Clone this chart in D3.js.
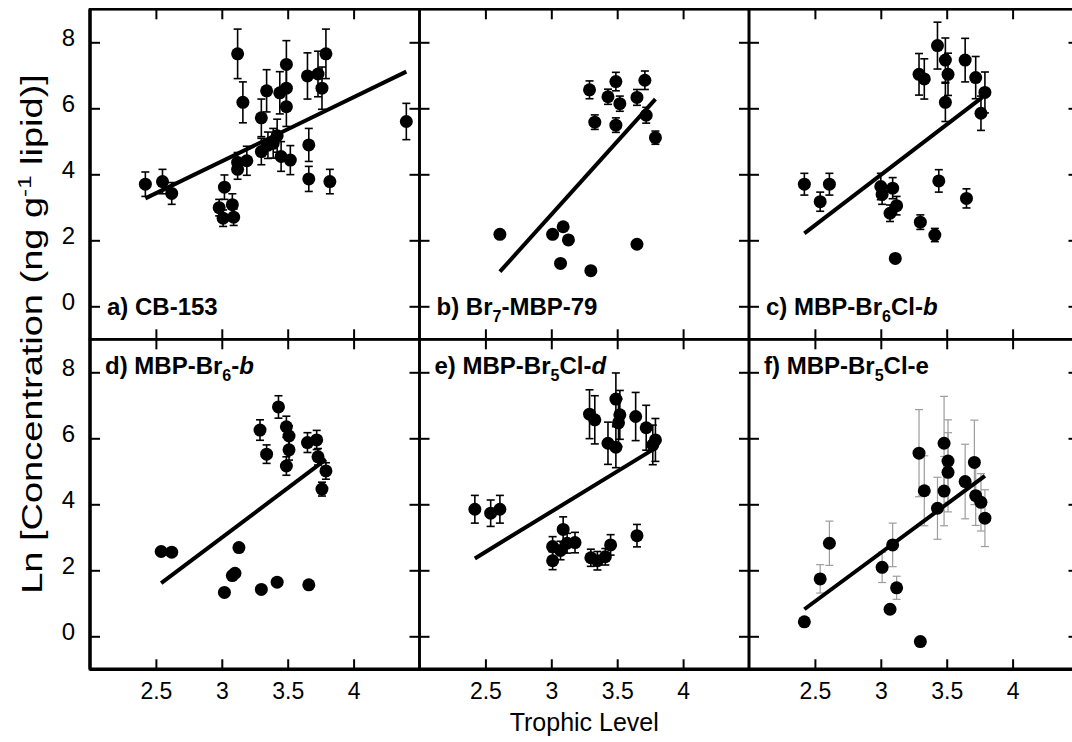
<!DOCTYPE html>
<html>
<head>
<meta charset="utf-8">
<script src="https://cdn.jsdelivr.net/npm/d3@7"></script>
<style>
  body { margin: 0; background: #fff; }
  text { font-family: "Liberation Sans", Arial, sans-serif; }
</style>
</head>
<body>
<script>
// tick values
const xTicks = [2.5, 3, 3.5, 4]
const yTicks = [0, 2, 4, 6, 8]

// a) CB-153
const tlA = [2.42, 2.55, 2.62, 3.12, 3.16, 3.02, 2.98, 3.01, 3.08, 3.09, 3.12, 3.12, 3.19, 3.30, 3.30, 3.34, 3.35, 3.39, 3.42, 3.44, 3.45, 3.49, 3.49, 3.49, 3.52, 3.65, 3.66, 3.66, 3.73, 3.76, 3.79, 3.82, 4.40]
const lnA = [3.70, 3.78, 3.42, 7.65, 6.18, 3.61, 2.99, 2.67, 3.08, 2.70, 4.15, 4.36, 4.41, 5.71, 4.69, 6.53, 4.88, 4.94, 5.17, 6.47, 4.54, 7.33, 6.61, 6.05, 4.43, 6.98, 4.89, 3.86, 7.04, 6.61, 7.65, 3.78, 5.60]
const errA = [0.37, 0.37, 0.33, 0.75, 0.62, 0.37, 0.25, 0.25, 0.33, 0.25, 0.30, 0.30, 0.44, 0.57, 0.40, 0.64, 0.40, 0.45, 0.50, 0.64, 0.45, 0.72, 0.65, 0.60, 0.44, 0.70, 0.50, 0.38, 0.69, 0.64, 0.75, 0.37, 0.55]
const fitXA = [2.42, 4.40]
const fitYA = [3.27, 7.11]

// b) Br7-MBP-79
const tlB = [2.61, 3.01, 3.09, 3.13, 3.07, 3.30, 3.65, 3.29, 3.33, 3.43, 3.49, 3.52, 3.49, 3.65, 3.71, 3.72, 3.79]
const lnB = [2.18, 2.18, 2.41, 2.01, 1.30, 1.08, 1.88, 6.56, 5.58, 6.35, 6.81, 6.14, 5.49, 6.33, 6.85, 5.79, 5.11]
const errB = [0, 0, 0, 0, 0, 0, 0, 0.27, 0.22, 0.23, 0.28, 0.23, 0.22, 0.24, 0.28, 0.24, 0.20]
const fitXB = [2.61, 3.79]
const fitYB = [1.05, 6.28]

// c) MBP-Br6Cl-b
const tlC = [2.42, 2.54, 2.61, 3.00, 3.01, 3.09, 3.12, 3.07, 3.11, 3.30, 3.41, 3.44, 3.65, 3.29, 3.33, 3.43, 3.49, 3.51, 3.49, 3.64, 3.72, 3.79, 3.76]
const lnC = [3.70, 3.17, 3.70, 3.63, 3.39, 3.58, 3.05, 2.82, 1.45, 2.55, 2.16, 3.80, 3.27, 7.03, 6.89, 7.90, 7.46, 7.03, 6.18, 7.46, 6.93, 6.48, 5.85]
const errC = [0.33, 0.29, 0.33, 0.40, 0.30, 0.32, 0.28, 0.25, 0, 0.22, 0.20, 0.34, 0.29, 0.63, 0.61, 0.71, 0.67, 0.64, 0.58, 0.66, 0.64, 0.62, 0.52]
const fitXC = [2.42, 3.77]
const fitYC = [2.21, 6.33]

// d) MBP-Br6-b
const tlD = [2.54, 2.62, 3.02, 3.08, 3.10, 3.13, 3.30, 3.42, 3.66, 3.29, 3.34, 3.43, 3.49, 3.51, 3.51, 3.49, 3.65, 3.72, 3.73, 3.79, 3.76]
const lnD = [2.57, 2.55, 1.33, 1.84, 1.91, 2.69, 1.42, 1.64, 1.56, 6.25, 5.52, 6.95, 6.35, 6.07, 5.65, 5.16, 5.87, 5.95, 5.44, 5.01, 4.46]
const errD = [0, 0, 0, 0, 0, 0, 0, 0, 0, 0.31, 0.28, 0.34, 0.32, 0.31, 0.31, 0.28, 0.30, 0.29, 0.25, 0.25, 0.21]
const fitXD = [2.54, 3.79]
const fitYD = [1.61, 5.36]

// e) MBP-Br5Cl-d
const tlE = [2.42, 2.54, 2.61, 3.01, 3.01, 3.07, 3.09, 3.12, 3.18, 3.30, 3.35, 3.41, 3.45, 3.65, 3.29, 3.33, 3.43, 3.49, 3.52, 3.51, 3.49, 3.64, 3.72, 3.79, 3.77]
const lnE = [3.85, 3.73, 3.85, 2.72, 2.29, 2.60, 3.24, 2.82, 2.84, 2.38, 2.29, 2.41, 2.77, 3.05, 6.73, 6.56, 5.85, 7.19, 6.71, 6.47, 5.73, 6.66, 6.32, 5.95, 5.80]
const errE = [0.42, 0.40, 0.42, 0.30, 0.27, 0.28, 0.38, 0.30, 0.31, 0.26, 0.28, 0.25, 0.31, 0.34, 0.74, 0.73, 0.64, 0.79, 0.74, 0.72, 0.62, 0.73, 0.68, 0.65, 0.60]
const fitXE = [2.42, 3.78]
const fitYE = [2.36, 5.68]

// f) MBP-Br5Cl-e
const tlF = [2.42, 2.54, 2.61, 3.01, 3.07, 3.09, 3.12, 3.30, 3.29, 3.33, 3.43, 3.48, 3.51, 3.51, 3.48, 3.64, 3.71, 3.72, 3.76, 3.79]
const lnF = [0.44, 1.74, 2.82, 2.09, 0.82, 2.77, 1.47, -0.16, 5.55, 4.41, 3.88, 5.85, 5.31, 4.97, 4.40, 4.69, 5.27, 4.26, 4.06, 3.58]
const errF = [0, 0.43, 0.67, 0.46, 0, 0.66, 0.35, 0, 1.32, 1.06, 0.94, 1.42, 1.25, 1.20, 1.05, 1.13, 1.28, 0.90, 0.87, 0.86]
const fitXF = [2.42, 3.79]
const fitYF = [0.82, 4.86]

const panels = [
  {tl: tlA, ln: lnA, err: errA, fx: fitXA, fy: fitYA, label: [{t: "a) CB-153"}]},
  {tl: tlB, ln: lnB, err: errB, fx: fitXB, fy: fitYB, label: [{t: "b) Br"}, {t: "7", sub: true}, {t: "-MBP-79"}]},
  {tl: tlC, ln: lnC, err: errC, fx: fitXC, fy: fitYC, label: [{t: "c) MBP-Br"}, {t: "6", sub: true}, {t: "Cl-"}, {t: "b", it: true}]},
  {tl: tlD, ln: lnD, err: errD, fx: fitXD, fy: fitYD, label: [{t: "d) MBP-Br"}, {t: "6", sub: true}, {t: "-"}, {t: "b", it: true}]},
  {tl: tlE, ln: lnE, err: errE, fx: fitXE, fy: fitYE, label: [{t: "e) MBP-Br"}, {t: "5", sub: true}, {t: "Cl-"}, {t: "d", it: true}]},
  {tl: tlF, ln: lnF, err: errF, fx: fitXF, fy: fitYF, label: [{t: "f) MBP-Br"}, {t: "5", sub: true}, {t: "Cl-e"}], grey: true}
]

const w = 1072
const h = 742
const mLeft = 90
const mTop = 9.3
const pw = 329.5
const ph = 330

const x = d3.scaleLinear().domain([2, 4.5]).range([0, pw])
const y = d3.scaleLinear().domain([-1, 9]).range([ph, 0])

const svg = d3.select("body").append("svg")
  .attr("width", w)
  .attr("height", h)

panels.forEach((p, i) => {
  const col = i % 3
  const row = Math.floor(i / 3)
  const g = svg.append("g")
    .attr("transform", "translate(" + (mLeft + col * pw) + "," + (mTop + row * ph) + ")")

  // inward ticks on all four sides
  const tickStyle = (sel) => {
    sel.select(".domain").remove()
    sel.selectAll(".tick line").attr("stroke", "#000").attr("stroke-width", 2)
  }
  g.append("g").attr("transform", "translate(0," + ph + ")")
    .call(d3.axisBottom(x).tickValues(xTicks).tickSize(-10).tickFormat("")).call(tickStyle)
  g.append("g")
    .call(d3.axisTop(x).tickValues(xTicks).tickSize(-10).tickFormat("")).call(tickStyle)
  g.append("g")
    .call(d3.axisLeft(y).tickValues(yTicks).tickSize(-10).tickFormat("")).call(tickStyle)
  g.append("g").attr("transform", "translate(" + pw + ",0)")
    .call(d3.axisRight(y).tickValues(yTicks).tickSize(-10).tickFormat("")).call(tickStyle)

  // tick labels on the outside
  if (row === 1) {
    g.append("g").attr("transform", "translate(0," + ph + ")")
      .call(d3.axisBottom(x).tickValues(xTicks).tickSize(0).tickPadding(13).tickFormat(d3.format("")))
      .call((sel) => {
        sel.select(".domain").remove()
        sel.selectAll("text").attr("font-size", 23).attr("fill", "#000")
      })
  }
  if (col === 0) {
    g.append("g")
      .call(d3.axisLeft(y).tickValues(yTicks).tickSize(0).tickPadding(15).tickFormat(d3.format("")))
      .call((sel) => {
        sel.select(".domain").remove()
        sel.selectAll("text").attr("font-size", 24).attr("fill", "#000").attr("dy", "0.15em")
      })
  }

  const pts = p.tl.map((v, k) => ({tl: v, ln: p.ln[k], err: p.err[k]})).filter((d) => d.err > 0)
  const ec = p.grey ? "#9c9c9c" : "#000"
  const ew = p.grey ? 1.2 : 1.6
  const eb = g.append("g").selectAll("g").data(pts).enter().append("g")
  eb.append("line")
    .attr("x1", (d) => x(d.tl)).attr("x2", (d) => x(d.tl))
    .attr("y1", (d) => y(d.ln + d.err)).attr("y2", (d) => y(d.ln - d.err))
    .attr("stroke", ec).attr("stroke-width", ew)
  eb.append("line")
    .attr("x1", (d) => x(d.tl) - 4).attr("x2", (d) => x(d.tl) + 4)
    .attr("y1", (d) => y(d.ln + d.err)).attr("y2", (d) => y(d.ln + d.err))
    .attr("stroke", ec).attr("stroke-width", ew)
  eb.append("line")
    .attr("x1", (d) => x(d.tl) - 4).attr("x2", (d) => x(d.tl) + 4)
    .attr("y1", (d) => y(d.ln - d.err)).attr("y2", (d) => y(d.ln - d.err))
    .attr("stroke", ec).attr("stroke-width", ew)

  // regression line
  g.append("path")
    .datum(p.fx.map((v, k) => [v, p.fy[k]]))
    .attr("d", d3.line().x((d) => x(d[0])).y((d) => y(d[1])))
    .attr("stroke", "#000").attr("stroke-width", 4).attr("fill", "none")

  g.append("g").selectAll("circle")
    .data(p.tl.map((v, k) => ({tl: v, ln: p.ln[k]})))
    .enter().append("circle")
    .attr("cx", (d) => x(d.tl))
    .attr("cy", (d) => y(d.ln))
    .attr("r", 6.5)
    .attr("fill", "#000")

  // panel label
  const lab = g.append("text")
    .attr("x", row === 0 ? 17 : 15)
    .attr("y", row === 0 ? 306 : 35)
    .attr("font-size", 24)
    .attr("font-weight", "bold")
  p.label.forEach((s, k) => {
    const ts = lab.append("tspan").text(s.t)
    if (s.sub) {
      ts.attr("font-size", 16).attr("dy", 7)
    } else if (k > 0 && p.label[k - 1].sub) {
      ts.attr("dy", -7)
    }
    if (s.it) ts.attr("font-style", "italic")
  })

  // frame
  g.append("rect")
    .attr("width", pw).attr("height", ph)
    .attr("fill", "none").attr("stroke", "#000").attr("stroke-width", 2.6)
})

// thicker outer left and bottom axis lines
svg.append("line")
  .attr("x1", mLeft).attr("x2", mLeft).attr("y1", mTop).attr("y2", mTop + 2 * ph)
  .attr("stroke", "#000").attr("stroke-width", 3.4)
svg.append("line")
  .attr("x1", mLeft).attr("x2", mLeft + 3 * pw).attr("y1", mTop + 2 * ph).attr("y2", mTop + 2 * ph)
  .attr("stroke", "#000").attr("stroke-width", 3.4)

// axis titles
svg.append("text")
  .attr("x", mLeft + 1.5 * pw)
  .attr("y", 731)
  .attr("text-anchor", "middle")
  .attr("font-size", 25)
  .text("Trophic Level")

const yl = svg.append("g").attr("transform", "translate(42,334) rotate(-90)")
const ylt = yl.append("text")
  .attr("text-anchor", "middle")
  .attr("font-size", 30)
ylt.append("tspan").text("Ln [Concentration (ng g")
ylt.append("tspan").text("-1").attr("font-size", 19).attr("dy", -11)
ylt.append("tspan").text(" lipid)]").attr("dy", 11)
const len = ylt.node().getComputedTextLength()
ylt.attr("transform", "scale(" + (520 / len) + ",1)")
</script>
</body>
</html>
